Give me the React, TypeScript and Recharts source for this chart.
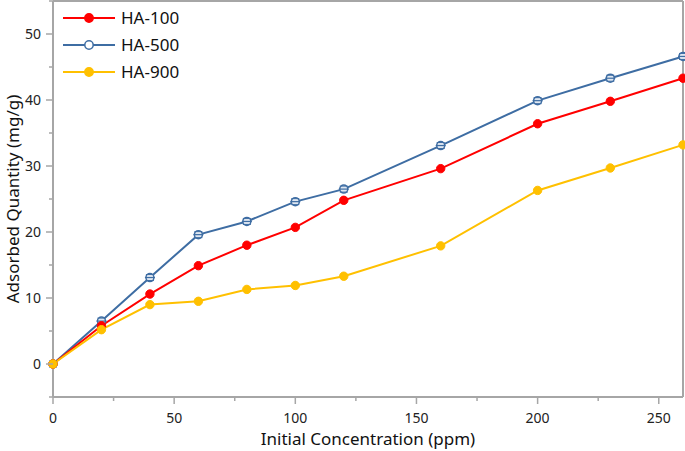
import { LineChart, Line, XAxis, YAxis, ReferenceLine } from 'recharts'

const concentrations = [0, 20, 40, 60, 80, 100, 120, 160, 200, 230, 260]
const ha100 = [0, 5.8, 10.6, 14.9, 18.0, 20.7, 24.8, 29.6, 36.4, 39.8, 43.3]
const ha500 = [0, 6.5, 13.1, 19.6, 21.6, 24.6, 26.5, 33.1, 39.9, 43.3, 46.6]
const ha900 = [0, 5.2, 9.0, 9.5, 11.3, 11.9, 13.3, 17.9, 26.3, 29.7, 33.2]

const xTicks = [0, 25, 50, 75, 100, 125, 150, 175, 200, 225, 250]
const yTicks = [-5, 0, 5, 10, 15, 20, 25, 30, 35, 40, 45, 50, 55]

const AXIS = '#a6a6a6'
const RED = '#ff0000'
const BLUE = '#3e6da3'
const YELLOW = '#ffc000'
const FONT = '"Noto Sans", "Open Sans", sans-serif'

const data = concentrations.map((c, i) => ({
  c,
  ha100: ha100[i],
  ha500: ha500[i],
  ha900: ha900[i],
}))

function XTick(props: any) {
  const { x, y, payload } = props
  const major = payload.value % 50 === 0
  return (
    <g>
      <line x1={x} x2={x} y1={y - 8} y2={y - 8 + (major ? 7 : 4)} stroke={AXIS} strokeWidth={1.5} />
      {major && (
        <text x={x} y={y + 18} textAnchor="middle" fontSize={14} fill="#222" fontFamily={FONT}>
          {payload.value}
        </text>
      )}
    </g>
  )
}

function YTick(props: any) {
  const { x, y, payload } = props
  const major = payload.value % 10 === 0
  return (
    <g>
      <line x1={x + 8} x2={x + 8 - (major ? 7 : 4)} y1={y} y2={y} stroke={AXIS} strokeWidth={1.5} />
      {major && (
        <text x={x - 4} y={y + 5} textAnchor="end" fontSize={14} fill="#222" fontFamily={FONT}>
          {payload.value}
        </text>
      )}
    </g>
  )
}

function FilledDot(color: string) {
  return (props: any) => {
    const { cx, cy, index } = props
    return <circle key={index} cx={cx} cy={cy} r={4.2} fill={color} stroke={color} strokeWidth={1} />
  }
}

function ErrDot(props: any) {
  const { cx, cy, index } = props
  return (
    <g key={index}>
      <circle cx={cx} cy={cy} r={4} fill="#dfe7f1" stroke={BLUE} strokeWidth={1.5} />
      <line x1={cx - 5} x2={cx + 5} y1={cy} y2={cy} stroke={BLUE} strokeWidth={1.2} />
      <line x1={cx - 4} x2={cx + 4} y1={cy - 3} y2={cy - 3} stroke={BLUE} strokeWidth={1} />
      <line x1={cx - 4} x2={cx + 4} y1={cy + 3} y2={cy + 3} stroke={BLUE} strokeWidth={1} />
    </g>
  )
}

const legendItems = [
  { name: 'HA-100', color: RED, fill: RED },
  { name: 'HA-500', color: BLUE, fill: '#ffffff' },
  { name: 'HA-900', color: YELLOW, fill: YELLOW },
]

function XLabel(props: any) {
  const { viewBox } = props
  return (
    <text x={viewBox.x + viewBox.width / 2} y={445} textAnchor="middle" fontSize={17} fill="#111" fontFamily={FONT}>
      Initial Concentration (ppm)
    </text>
  )
}

function YLabel(props: any) {
  const { viewBox } = props
  const cy = viewBox.y + viewBox.height / 2
  return (
    <text
      x={19}
      y={cy}
      transform={`rotate(-90, 19, ${cy})`}
      textAnchor="middle"
      fontSize={17}
      fill="#111"
      fontFamily={FONT}
    >
      Adsorbed Quantity (mg/g)
    </text>
  )
}

export default function App() {
  return (
    <div style={{ position: 'absolute', left: 0, top: 0, width: 685, height: 451, background: '#fff' }}>
      <LineChart width={685} height={451} data={data} margin={{ top: 1, right: 2, bottom: 0, left: 0 }}>
        <XAxis
          dataKey="c"
          type="number"
          domain={[0, 260]}
          ticks={xTicks}
          interval={0}
          stroke={AXIS}
          strokeWidth={2}
          tickLine={false}
          tick={<XTick />}
          height={54}
          label={<XLabel />}
        />
        <YAxis
          type="number"
          domain={[-5, 55]}
          ticks={yTicks}
          interval={0}
          stroke={AXIS}
          strokeWidth={2}
          tickLine={false}
          tick={<YTick />}
          width={53}
          label={<YLabel />}
        />
        <ReferenceLine x={260} stroke={AXIS} strokeWidth={2} />
        <ReferenceLine y={55} stroke={AXIS} strokeWidth={2} />
        <Line
          type="linear"
          dataKey="ha500"
          stroke={BLUE}
          strokeWidth={2}
          dot={ErrDot}
          isAnimationActive={false}
        />
        <Line
          type="linear"
          dataKey="ha100"
          stroke={RED}
          strokeWidth={2}
          dot={FilledDot(RED)}
          isAnimationActive={false}
        />
        <Line
          type="linear"
          dataKey="ha900"
          stroke={YELLOW}
          strokeWidth={2}
          dot={FilledDot(YELLOW)}
          isAnimationActive={false}
        />
      </LineChart>
      <svg width={150} height={85} style={{ position: 'absolute', left: 61, top: 6 }}>
        {legendItems.map((it, i) => (
          <g key={it.name} transform={`translate(0, ${12 + i * 27})`}>
            <line x1={2} x2={54} y1={0} y2={0} stroke={it.color} strokeWidth={2} />
            <circle cx={28} cy={0} r={4.2} fill={it.fill} stroke={it.color} strokeWidth={1.5} />
            <text x={60} y={6} fontSize={17} fill="#111" fontFamily={FONT}>
              {it.name}
            </text>
          </g>
        ))}
      </svg>
    </div>
  )
}
